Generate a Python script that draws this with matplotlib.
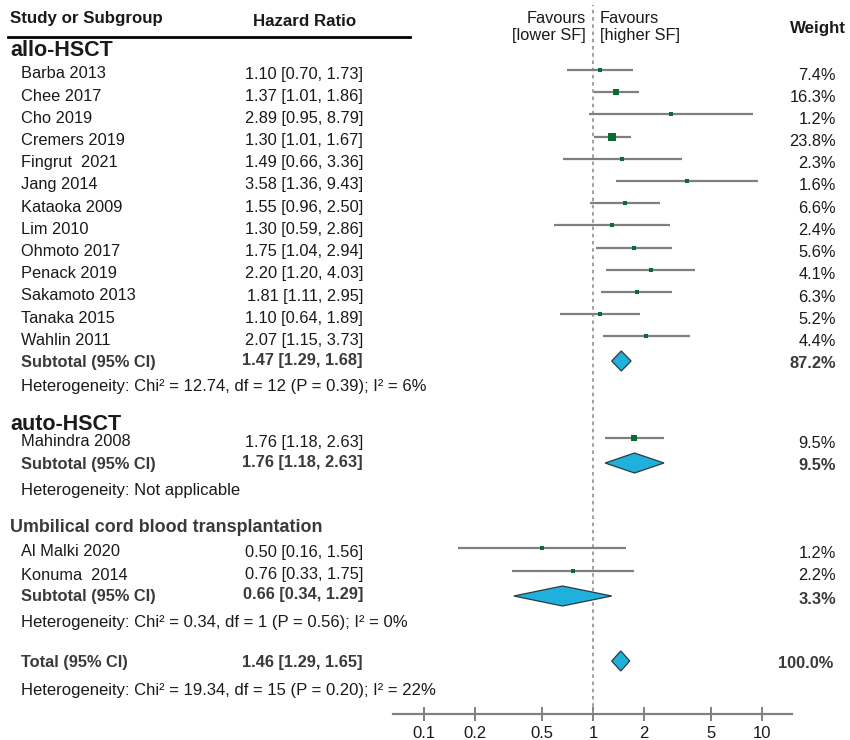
import numpy as np
import matplotlib
matplotlib.use('Agg')
import matplotlib.pyplot as plt

plt.rcParams['font.family'] = ['Liberation Sans', 'DejaVu Sans']

# ---- data ----
allo_studies = ['Barba 2013', 'Chee 2017', 'Cho 2019', 'Cremers 2019', 'Fingrut  2021', 'Jang 2014',
                'Kataoka 2009', 'Lim 2010', 'Ohmoto 2017', 'Penack 2019', 'Sakamoto 2013', 'Tanaka 2015',
                'Wahlin 2011']
allo_hr = [1.10, 1.37, 2.89, 1.30, 1.49, 3.58, 1.55, 1.30, 1.75, 2.20, 1.81, 1.10, 2.07]
allo_lo = [0.70, 1.01, 0.95, 1.01, 0.66, 1.36, 0.96, 0.59, 1.04, 1.20, 1.11, 0.64, 1.15]
allo_hi = [1.73, 1.86, 8.79, 1.67, 3.36, 9.43, 2.50, 2.86, 2.94, 4.03, 2.95, 1.89, 3.73]
allo_w = [7.4, 16.3, 1.2, 23.8, 2.3, 1.6, 6.6, 2.4, 5.6, 4.1, 6.3, 5.2, 4.4]

auto_studies = ['Mahindra 2008']
auto_hr = [1.76]
auto_lo = [1.18]
auto_hi = [2.63]
auto_w = [9.5]

ucb_studies = ['Al Malki 2020', 'Konuma  2014']
ucb_hr = [0.50, 0.76]
ucb_lo = [0.16, 0.33]
ucb_hi = [1.56, 1.75]
ucb_w = [1.2, 2.2]

group_names = ['allo-HSCT', 'auto-HSCT', 'Umbilical cord blood transplantation']
sub_hr = [1.47, 1.76, 0.66]
sub_lo = [1.29, 1.18, 0.34]
sub_hi = [1.68, 2.63, 1.29]
sub_w = [87.2, 9.5, 3.3]
sub_het = ['Heterogeneity: Chi\u00b2 = 12.74, df = 12 (P = 0.39); I\u00b2 = 6%',
           'Heterogeneity: Not applicable',
           'Heterogeneity: Chi\u00b2 = 0.34, df = 1 (P = 0.56); I\u00b2 = 0%']

total_hr, total_lo, total_hi = 1.46, 1.29, 1.65
total_het = 'Heterogeneity: Chi\u00b2 = 19.34, df = 15 (P = 0.20); I\u00b2 = 22%'

xticks = [0.1, 0.2, 0.5, 1, 2, 5, 10]
xticklabels = ['0.1', '0.2', '0.5', '1', '2', '5', '10']

# ---- layout (pixel rows, y grows downwards) ----
W, H = 850, 740
allo_rows = 74 + 22.2 * np.arange(13)
auto_rows = [442]
ucb_rows = [552, 575]
header_rows = [50, 424, 527]
sub_rows = [362, 464, 597]
het_rows = [386, 490, 622]
total_row, total_het_row = 662, 690
axis_y = 714
x_one = 593.0
decade = 169.0

col_name = 21
col_hr = 363
col_w = 836
txt = '#1a1a1a'
sub_col = '#3a3a3a'
fs = 11.8
fs_het = 12.0

fig = plt.figure(figsize=(W / 100, H / 100), dpi=100)
tx = fig.add_axes([0, 0, 1, 1])
tx.set_xlim(0, W)
tx.set_ylim(H, 0)
tx.axis('off')

left_px, right_px = 393, 792
fx = fig.add_axes([left_px / W, 0, (right_px - left_px) / W, 1])
fx.patch.set_alpha(0)
fx.set_xscale('log')
fx.set_xlim(10 ** ((left_px - x_one) / decade), 10 ** ((right_px - x_one) / decade))
fx.set_ylim(H, 0)

# header
tx.text(10, 18, 'Study or Subgroup', fontsize=12.2, fontweight='bold', color=txt, va='center')
tx.text(305, 22, 'Hazard Ratio', fontsize=12.2, fontweight='bold', color=txt, va='center', ha='center')
tx.text(846, 28, 'Weight', fontsize=12.2, fontweight='bold', color=txt, va='center', ha='right')
tx.plot([8, 410], [37, 37], color='black', lw=2)
tx.text(586, 27, 'Favours\n[lower SF]', fontsize=fs, color=txt, va='center', ha='right', linespacing=1.15)
tx.text(600, 27, 'Favours\n[higher SF]', fontsize=fs, color=txt, va='center', ha='left', linespacing=1.15)

fx.axvline(1, ymin=(H - axis_y) / H, ymax=(H - 5) / H, color='#999999', ls=(0, (2, 2)), lw=1.3)

groups = [
    (allo_studies, allo_hr, allo_lo, allo_hi, allo_w, allo_rows),
    (auto_studies, auto_hr, auto_lo, auto_hi, auto_w, auto_rows),
    (ucb_studies, ucb_hr, ucb_lo, ucb_hi, ucb_w, ucb_rows),
]

dh = 10  # half height of diamonds in px


def diamond(ax, est, lo, hi, y):
    ax.fill([lo, est, hi, est], [y, y - dh, y, y + dh], facecolor='#1fb1dc',
            edgecolor='#2a3a40', lw=0.9, zorder=3)


for g, (names, hr, lo, hi, w, rows) in enumerate(groups):
    if g == 2:
        tx.text(10, header_rows[g], group_names[g], fontsize=12.9, fontweight='bold',
                color=sub_col, va='center')
    else:
        tx.text(10, header_rows[g], group_names[g], fontsize=15.5, fontweight='bold',
                color=txt, va='center')
    for i in range(len(names)):
        y = rows[i]
        tx.text(col_name, y, names[i], fontsize=fs, color=txt, va='center')
        tx.text(col_hr, y, '%.2f [%.2f, %.2f]' % (hr[i], lo[i], hi[i]), fontsize=fs,
                color=txt, va='center', ha='right')
        tx.text(col_w, y + 1, '%.1f%%' % w[i], fontsize=fs, color=txt, va='center', ha='right')
        fx.plot([lo[i], hi[i]], [y - 4, y - 4], color='#7f7f7f', lw=1.6, zorder=2,
                solid_capstyle='butt')
        side = max(3.3, 1.7 * np.sqrt(w[i]))
        fx.plot([hr[i]], [y - 4], marker='s', ms=side * 0.72, color='#0b6b35',
                mec='#0b6b35', mew=0, zorder=3)
    ys = sub_rows[g]
    tx.text(col_name, ys, 'Subtotal (95% CI)', fontsize=fs, fontweight='bold', color=sub_col, va='center')
    tx.text(col_hr, ys - 2, '%.2f [%.2f, %.2f]' % (sub_hr[g], sub_lo[g], sub_hi[g]), fontsize=fs,
            fontweight='bold', color=sub_col, va='center', ha='right')
    tx.text(col_w, ys + 2, '%.1f%%' % sub_w[g], fontsize=fs, fontweight='bold', color=sub_col,
            va='center', ha='right')
    diamond(fx, sub_hr[g], sub_lo[g], sub_hi[g], ys - 1)
    tx.text(col_name, het_rows[g], sub_het[g], fontsize=fs_het, color=txt, va='center')

tx.text(col_name, total_row, 'Total (95% CI)', fontsize=fs, fontweight='bold', color=sub_col, va='center')
tx.text(col_hr, total_row, '%.2f [%.2f, %.2f]' % (total_hr, total_lo, total_hi), fontsize=fs,
        fontweight='bold', color=sub_col, va='center', ha='right')
tx.text(833, total_row + 1, '100.0%', fontsize=fs, fontweight='bold', color=sub_col, va='center', ha='right')
diamond(fx, total_hr, total_lo, total_hi, total_row - 1)
tx.text(col_name, total_het_row, total_het, fontsize=fs_het, color=txt, va='center')

# x axis
for s in ['top', 'left', 'right']:
    fx.spines[s].set_visible(False)
fx.spines['bottom'].set_position(('data', axis_y))
fx.spines['bottom'].set_color('#808080')
fx.spines['bottom'].set_linewidth(1.6)
fx.set_yticks([])
fx.set_xticks(xticks)
fx.set_xticklabels(xticklabels)
fx.minorticks_off()
fx.tick_params(axis='x', direction='inout', length=10, width=1.4, color='#808080',
               labelsize=12, labelcolor=txt, pad=4)

fig.savefig('out.png', dpi=100)
